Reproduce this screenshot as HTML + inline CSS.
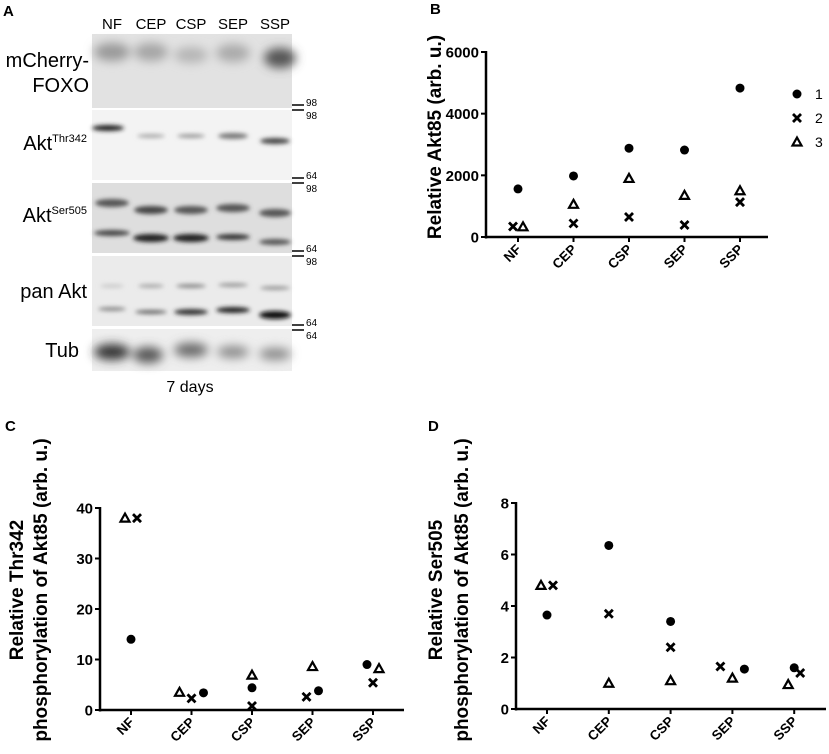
<!DOCTYPE html>
<html><head><meta charset="utf-8"><style>
html,body{margin:0;padding:0;background:#fff;}
svg{display:block;font-family:"Liberation Sans",Arial,sans-serif;}
</style></head><body>
<svg id="fig" width="829" height="754" viewBox="0 0 829 754">
<defs>
<filter id="bl" x="-50%" y="-200%" width="200%" height="500%"><feGaussianBlur stdDeviation="2.2"/></filter>
<filter id="bl2" x="-50%" y="-200%" width="200%" height="500%"><feGaussianBlur stdDeviation="5"/></filter>
</defs>
<g id="panelA">
<text x="3" y="16" font-size="15" font-weight="bold">A</text>
<g font-size="15" text-anchor="middle">
<text x="112" y="29">NF</text><text x="151" y="29">CEP</text><text x="191" y="29">CSP</text><text x="233" y="29">SEP</text><text x="275" y="29">SSP</text>
</g>
<rect x="92" y="34" width="200" height="74" fill="#e2e2e2"/>
<rect x="92" y="110" width="200" height="70" fill="#f3f3f3"/>
<rect x="92" y="183" width="200" height="70" fill="#dedede"/>
<rect x="92" y="256" width="200" height="70" fill="#ebebeb"/>
<rect x="92" y="329" width="200" height="42" fill="#eeeeee"/>
<g filter="url(#bl2)">
<ellipse cx="112" cy="52" rx="18" ry="9" fill="#999"/><ellipse cx="151" cy="52" rx="17" ry="9" fill="#a5a5a5"/>
<ellipse cx="191" cy="55" rx="17" ry="8" fill="#b5b5b5"/><ellipse cx="233" cy="53" rx="17" ry="9" fill="#aaa"/>
<ellipse cx="280" cy="58" rx="16" ry="10" fill="#555"/>
<ellipse cx="112" cy="352" rx="18" ry="8" fill="#333"/><ellipse cx="148" cy="355" rx="15" ry="8" fill="#555"/>
<ellipse cx="191" cy="350" rx="17" ry="7" fill="#666"/><ellipse cx="233" cy="352" rx="16" ry="6" fill="#888"/><ellipse cx="275" cy="354" rx="16" ry="6" fill="#888"/>
</g>
<g filter="url(#bl)">
<ellipse cx="108" cy="128" rx="16" ry="3" fill="#222"/><ellipse cx="151" cy="136" rx="14" ry="2" fill="#aaa"/>
<ellipse cx="191" cy="136" rx="14" ry="2" fill="#999"/><ellipse cx="233" cy="136" rx="15" ry="3" fill="#777"/><ellipse cx="275" cy="141" rx="15" ry="3" fill="#444"/>
<ellipse cx="112" cy="203" rx="17" ry="4" fill="#555"/><ellipse cx="151" cy="210" rx="17" ry="4" fill="#444"/>
<ellipse cx="191" cy="210" rx="17" ry="4" fill="#555"/><ellipse cx="233" cy="208" rx="17" ry="4" fill="#555"/><ellipse cx="275" cy="213" rx="16" ry="4" fill="#555"/>
<ellipse cx="112" cy="233" rx="18" ry="3" fill="#444"/><ellipse cx="151" cy="238" rx="18" ry="4" fill="#222"/>
<ellipse cx="191" cy="238" rx="18" ry="4" fill="#222"/><ellipse cx="233" cy="237" rx="17" ry="3" fill="#333"/><ellipse cx="275" cy="242" rx="16" ry="3" fill="#555"/>
<ellipse cx="112" cy="286" rx="12" ry="2" fill="#ccc"/><ellipse cx="151" cy="286" rx="13" ry="2" fill="#aaa"/>
<ellipse cx="191" cy="286" rx="15" ry="2" fill="#888"/><ellipse cx="233" cy="285" rx="15" ry="2" fill="#999"/><ellipse cx="275" cy="288" rx="15" ry="2" fill="#999"/>
<ellipse cx="112" cy="309" rx="14" ry="2" fill="#888"/><ellipse cx="151" cy="312" rx="16" ry="2" fill="#666"/>
<ellipse cx="191" cy="312" rx="17" ry="3" fill="#333"/><ellipse cx="233" cy="310" rx="17" ry="3" fill="#222"/><ellipse cx="275" cy="315" rx="16" ry="4" fill="#111"/>
</g>
<g font-size="20" text-anchor="end">
<text x="89" y="67">mCherry-</text><text x="89" y="92">FOXO</text>
<text x="87" y="150">Akt<tspan font-size="11" dy="-8">Thr342</tspan></text>
<text x="87" y="222">Akt<tspan font-size="11" dy="-8">Ser505</tspan></text>
<text x="87" y="298">pan Akt</text>
<text x="79" y="357">Tub</text>
</g>
<g font-size="10">
<line x1="292" y1="105" x2="304" y2="105" stroke="#000" stroke-width="1.5"/><line x1="292" y1="110" x2="304" y2="110" stroke="#000" stroke-width="1.5"/>
<text x="306" y="106">98</text><text x="306" y="119">98</text>
<line x1="292" y1="178" x2="304" y2="178" stroke="#000" stroke-width="1.5"/><line x1="292" y1="183" x2="304" y2="183" stroke="#000" stroke-width="1.5"/>
<text x="306" y="179">64</text><text x="306" y="192">98</text>
<line x1="292" y1="251" x2="304" y2="251" stroke="#000" stroke-width="1.5"/><line x1="292" y1="256" x2="304" y2="256" stroke="#000" stroke-width="1.5"/>
<text x="306" y="252">64</text><text x="306" y="265">98</text>
<line x1="292" y1="325" x2="304" y2="325" stroke="#000" stroke-width="1.5"/><line x1="292" y1="330" x2="304" y2="330" stroke="#000" stroke-width="1.5"/>
<text x="306" y="326">64</text><text x="306" y="339">64</text>
</g>
<text x="190" y="392" font-size="16" text-anchor="middle">7 days</text>
</g>
<text x="430" y="14" font-size="15" font-weight="bold">B</text>
<text x="5" y="431" font-size="15" font-weight="bold">C</text>
<text x="428" y="431" font-size="15" font-weight="bold">D</text>
</svg>
<script>
const categories = ["NF","CEP","CSP","SEP","SSP"];
const bS1 = [1560,1980,2880,2820,4830];
const bS2 = [340,440,650,390,1130];
const bS3 = [330,1060,1900,1350,1500];
const bTicks = [0,2000,4000,6000];
const cS1 = [14,3.4,4.4,3.8,9];
const cS2 = [38,2.3,0.8,2.6,5.4];
const cS3 = [38,3.5,6.9,8.6,8.2];
const cTicks = [0,10,20,30,40];
const dS1 = [3.65,6.35,3.4,1.55,1.6];
const dS2 = [4.8,3.7,2.4,1.65,1.4];
const dS3 = [4.8,1.0,1.1,1.2,0.95];
const dTicks = [0,2,4,6,8];
const legendLabels = ["1","2","3"];

const NS="http://www.w3.org/2000/svg";
const svg=document.getElementById('fig');
function mk(tag,attrs,parent){const e=document.createElementNS(NS,tag);for(const k in attrs)e.setAttribute(k,attrs[k]);(parent||svg).appendChild(e);return e;}
function marker(kind,x,y,g){
  let m;
  if(kind===0){m=mk('circle',{cx:x,cy:y,r:4.5,fill:'#000'},g);}
  else if(kind===1){m=mk('path',{d:`M${x-4} ${y-4}L${x+4} ${y+4}M${x+4} ${y-4}L${x-4} ${y+4}`,stroke:'#000','stroke-width':2.8,fill:'none'},g);}
  else {m=mk('path',{d:`M${x} ${y-4.5}L${x+4.5} ${y+3.5}L${x-4.5} ${y+3.5}Z`,stroke:'#000','stroke-width':2.2,fill:'none','stroke-linejoin':'miter'},g);}
  return m;
}
function chart(o){
  const g=mk('g',{});
  
  
  const ymax=o.ticks[o.ticks.length-1];
  const ys=v=>o.y0-(v/ymax)*(o.y0-o.y1);
  const xs=i=>o.x0+o.c0+i*o.step;
  mk('line',{x1:o.ax,y1:o.y1-1,x2:o.ax,y2:o.y0+1.5,stroke:'#000','stroke-width':2.5},g);
  mk('line',{x1:o.ax,y1:o.y0,x2:o.xend,y2:o.y0,stroke:'#000','stroke-width':2.5},g);
  o.ticks.forEach(t=>{
    mk('line',{x1:o.ax-5,y1:ys(t),x2:o.ax,y2:ys(t),stroke:'#000','stroke-width':2},g);
    const tx=mk('text',{x:o.ax-7,y:ys(t)+5.5,'font-size':15,'font-weight':'bold','text-anchor':'end'},g);
    tx.textContent=t;
    
    
  });
  categories.forEach((c,i)=>{
    const x=xs(i);
    mk('line',{x1:x,y1:o.y0,x2:x,y2:o.y0+5,stroke:'#000','stroke-width':2},g);
    const tx=mk('text',{x:x+4,y:o.y0+13,'font-size':13.5,'font-weight':'bold','text-anchor':'end',transform:`rotate(-45 ${x+4} ${o.y0+13})`},g);
    tx.textContent=c;
    
    
  });
  o.series.forEach((s,k)=>{
    s.forEach((v,i)=>{
      const m=marker(k,xs(i)+o.off[k][i],ys(v),g);
      
      
    });
  });
  o.title.forEach((t,j)=>{
    const tx=mk('text',{x:o.tx[j],y:o.ty,'font-size':19,'font-weight':'bold','text-anchor':'middle',transform:`rotate(-90 ${o.tx[j]} ${o.ty})`},g);
    tx.textContent=t;
    
    
  });
}
chart({name:'chart-b-akt85',ax:486,x0:486,c0:32,step:55.5,y0:237,y1:52,xend:768,ticks:bTicks,
 series:[bS1,bS2,bS3],off:[[0,0,0,0,0],[-5,0,0,0,0],[5,0,0,0,0]],
 title:["Relative Akt85 (arb. u.)"],tx:[441],ty:137});
chart({name:'chart-c-thr342',ax:100,x0:100,c0:31,step:60.5,y0:710,y1:508,xend:404,ticks:cTicks,
 series:[cS1,cS2,cS3],off:[[0,12,0,6,-6],[6,0,0,-6,0],[-6,-12,0,0,6]],
 title:["Relative Thr342","phosphorylation of Akt85 (arb. u.)"],tx:[23,47],ty:590});
chart({name:'chart-d-ser505',ax:516,x0:516,c0:31,step:61.8,y0:709,y1:503,xend:826,ticks:dTicks,
 series:[dS1,dS2,dS3],off:[[0,0,0,12,0],[6,0,0,-12,6],[-6,0,0,0,-6]],
 title:["Relative Ser505","phosphorylation of Akt85 (arb. u.)"],tx:[442,468],ty:590});
const lg=mk('g',{});


legendLabels.forEach((l,k)=>{
  const y=94+k*24;
  const m=marker(k,797,y,lg);
  
  
  const t=mk('text',{x:815,y:y+5,'font-size':14},lg);
  t.textContent=l;
  
  
});
</script>
</body></html>
